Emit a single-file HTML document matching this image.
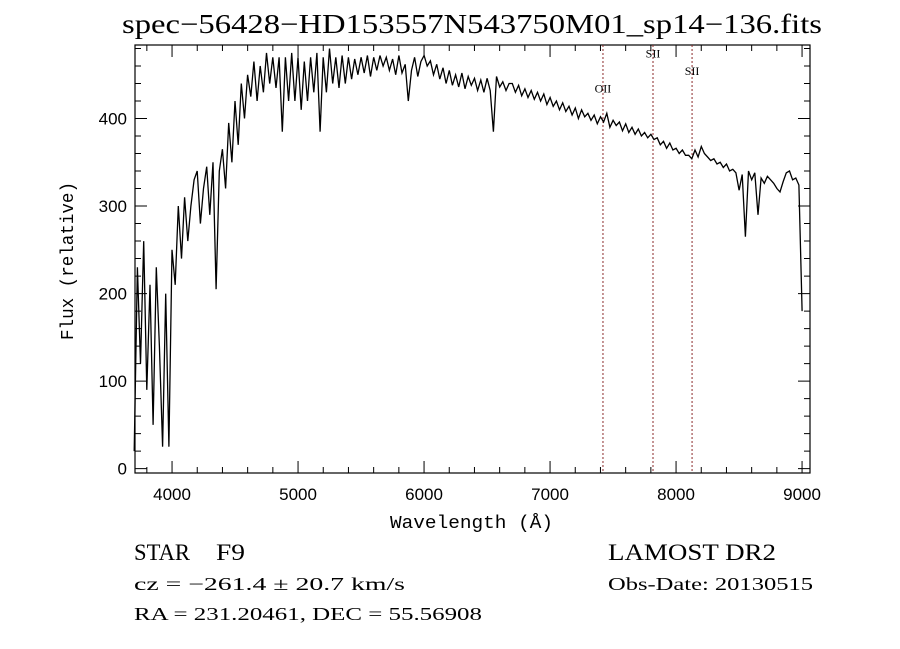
<!DOCTYPE html>
<html><head><meta charset="utf-8"><style>
html,body{margin:0;padding:0;background:#fff;}
svg{display:block;}
</style></head><body>
<svg id="chart" width="900" height="649" viewBox="0 0 900 649" xmlns="http://www.w3.org/2000/svg">
<rect x="0" y="0" width="900" height="649" fill="#fff"/>
<text x="122" y="33" textLength="700" lengthAdjust="spacingAndGlyphs" font-family="Liberation Serif, serif" font-size="27">spec−56428−HD153557N543750M01_sp14−136.fits</text>
<g id="axes"></g>
<g id="lines"></g>
<path id="spec" fill="none" stroke="#000" stroke-width="1.3"/>
<text x="390" y="528" textLength="163" lengthAdjust="spacingAndGlyphs" font-family="Liberation Mono, monospace" font-size="18">Wavelength (Å)</text>
<text transform="translate(73,340) rotate(-90)" textLength="158" lengthAdjust="spacingAndGlyphs" font-family="Liberation Mono, monospace" font-size="18">Flux (relative)</text>
<text x="134" y="560" textLength="56" lengthAdjust="spacingAndGlyphs" font-family="Liberation Serif, serif" font-size="23">STAR</text>
<text x="216" y="560" textLength="29" lengthAdjust="spacingAndGlyphs" font-family="Liberation Serif, serif" font-size="23">F9</text>
<text x="134" y="590" textLength="271" lengthAdjust="spacingAndGlyphs" font-family="Liberation Serif, serif" font-size="18">cz = −261.4 ± 20.7 km/s</text>
<text x="134" y="620" textLength="348" lengthAdjust="spacingAndGlyphs" font-family="Liberation Serif, serif" font-size="18">RA = 231.20461, DEC =  55.56908</text>
<text x="608" y="560" textLength="168" lengthAdjust="spacingAndGlyphs" font-family="Liberation Serif, serif" font-size="23">LAMOST DR2</text>
<text x="608" y="590" textLength="205" lengthAdjust="spacingAndGlyphs" font-family="Liberation Serif, serif" font-size="18">Obs-Date: 20130515</text>
</svg>
<script>
const xTicks = [4000,5000,6000,7000,8000,9000];
const yTicks = [0,100,200,300,400];
const lineNames = ["OII","SII","SII"];
const lineWaves = [7420,7817,8127];
const lineLabelFlux = [430,470,450];
const waveStart = 3700;
const waveStep = 25;
const flux = [
20,230,120,260,90,210,50,230,
140,25,200,25,250,210,300,240,
310,260,300,330,340,280,320,345,
290,350,205,340,365,320,395,350,
420,370,440,400,450,425,465,420,
460,430,475,440,470,435,470,385,
470,420,475,420,470,410,465,420,
470,430,475,385,470,430,480,440,
470,435,472,440,470,445,468,450,
470,452,472,448,470,455,472,460,
470,455,468,450,472,452,462,420,
455,470,448,465,472,460,466,450,
462,445,458,440,455,438,450,436,
452,434,448,438,446,432,444,430,
446,432,385,448,436,442,432,440,
440,430,438,426,434,424,432,422,
430,420,428,416,424,414,420,410,
418,408,414,404,412,400,410,402,
406,398,404,394,402,396,406,390,
398,392,396,386,394,384,390,382,
388,380,384,378,382,376,378,370,
374,366,372,364,366,360,364,358,
358,354,364,356,368,360,356,352,
354,348,350,344,348,340,342,338,
318,336,265,340,330,338,290,332,
326,334,330,326,320,316,328,338,
340,330,332,324,
180];

const L=135,R=810,T=45,B=473;
const X0=3706,X1=9063,Y0=-5,Y1=484;
function sx(w){return L+(w-X0)/(X1-X0)*(R-L);}
function sy(v){return B-(v-Y0)/(Y1-Y0)*(B-T);}
const NS="http://www.w3.org/2000/svg";
function mk(tag,attrs,parent){const e=document.createElementNS(NS,tag);for(const k in attrs)e.setAttribute(k,attrs[k]);parent.appendChild(e);return e;}
const axes=document.getElementById('axes');
const frame=mk('rect',{x:L,y:T,width:R-L,height:B-T,fill:'none',stroke:'#000','stroke-width':1.2},axes);


let tp='';
for(let w=3800;w<=X1;w+=200){const x=sx(w);const len=(w%1000===0)?12:6;tp+=`M${x},${B}v${-len}M${x},${T}v${len}`;}
for(let v=0;v<=Y1;v+=20){const y=sy(v);const len=(v%100===0)?12:6;tp+=`M${L},${y}h${len}M${R},${y}h${-len}`;}
const ticks=mk('path',{d:tp,stroke:'#000','stroke-width':1,fill:'none'},axes);


xTicks.forEach(w=>{const t=mk('text',{x:sx(w),y:500,'text-anchor':'middle','font-family':'Liberation Sans, sans-serif','font-size':17},axes);t.textContent=w;

});
yTicks.forEach(v=>{const t=mk('text',{x:127,y:sy(v)+6,'text-anchor':'end','font-family':'Liberation Sans, sans-serif','font-size':17},axes);t.textContent=v;

});
const lg=document.getElementById('lines');
lineWaves.forEach((w,i)=>{const x=sx(w);
const ln=mk('line',{x1:x,x2:x,y1:T,y2:B,stroke:'#8b2a2a','stroke-width':1,'stroke-dasharray':'2,2'},lg);


const t=mk('text',{x:x,y:sy(lineLabelFlux[i]),'text-anchor':'middle','font-family':'Liberation Serif, serif','font-size':12},lg);t.textContent=lineNames[i];

});
let d='';
flux.forEach((v,i)=>{const w=waveStart+i*waveStep;d+=(i?'L':'M')+sx(w).toFixed(1)+','+sy(v).toFixed(1);});
document.getElementById('spec').setAttribute('d',d);
</script>
</body></html>
